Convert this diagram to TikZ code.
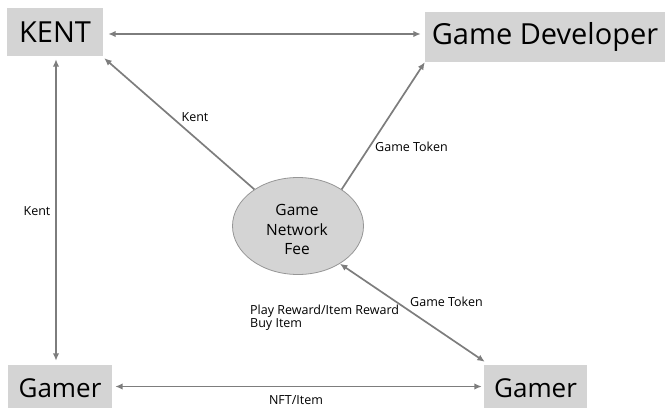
\documentclass[tikz,border=0pt]{standalone}
\usepackage{fontspec}
\setmainfont{Open Sans}
\usetikzlibrary{arrows.meta,shapes.geometric}
\definecolor{boxgray}{RGB}{212,212,212}
\definecolor{ellgray}{RGB}{212,212,212}
\definecolor{ellborder}{RGB}{150,150,150}
\definecolor{linegray}{RGB}{125,125,125}
\begin{document}
\begin{tikzpicture}[x=1pt,y=-1pt,
  box/.style={fill=boxgray, draw=none, inner sep=0pt, font=\fontsize{29}{34}\selectfont},
  gbox/.style={box, font=\fontsize{26}{30}\selectfont},
  both/.style={draw=linegray, line width=1.7pt, {Latex[length=7.5pt,width=6.5pt]}-{Latex[length=7.5pt,width=6.5pt]}},
  one/.style={draw=linegray, line width=1.7pt, -{Latex[length=7.5pt,width=6.5pt]}},
  lbl/.style={font=\fontsize{12.5}{14}\selectfont, inner sep=0pt, text=black}
]
\useasboundingbox (0,0) rectangle (672,407);
\clip (0,0) rectangle (672,407);

\node[box, minimum width=96pt, minimum height=48pt] (kent) at (55,32) {KENT};
\node[box, minimum width=240pt, minimum height=50pt] (gd) at (545,37) {Game Developer};
\node[gbox, minimum width=104pt, minimum height=47pt] (gl) at (60,388.5) {Gamer};
\node[gbox, minimum width=103pt, minimum height=47pt] (gr) at (535.5,388.5) {Gamer};
\node[ellipse, fill=ellgray, draw=ellborder, line width=0.8pt, minimum width=131pt, minimum height=97pt, inner sep=0pt] (ell) at (298,226) {};
\node[align=center, inner sep=0pt, font=\fontsize{15.5}{19.5}\selectfont] (elltxt) at (297,229.5) {Game\\Network\\Fee};

\draw[both] ([shift={(5,2)}]kent.east) -- ([shift={(-4,-3)}]gd.west);
\draw[both] ([shift={(1,3)}]kent.south) -- ([shift={(-4,-4)}]gl.north);
\draw[one] (ell.140) -- ([shift={(1,2)}]kent.south east);
\draw[one] (ell.40) -- (gd.south west);
\draw[both] ([shift={(1,-3)}]gr.north west) -- (ell.-42);
\draw[both] ([shift={(3,-2)}]gl.east) -- ([shift={(-2,-2)}]gr.west);

\node[lbl] (lk1) at (195,117) {Kent};
\node[lbl, anchor=west] (lgt1) at (375,147) {Game Token};
\node[lbl] (lk2) at (37,211) {Kent};
\node[lbl, anchor=west] (lgt2) at (410,302) {Game Token};
\node[lbl, anchor=west] (lpr) at (250,311) {Play Reward/Item Reward};
\node[lbl, anchor=west] (lbi) at (250,325) {Buy Item};
\node[lbl] (lnft) at (296,400.5) {NFT/Item};
\end{tikzpicture}
\end{document}
